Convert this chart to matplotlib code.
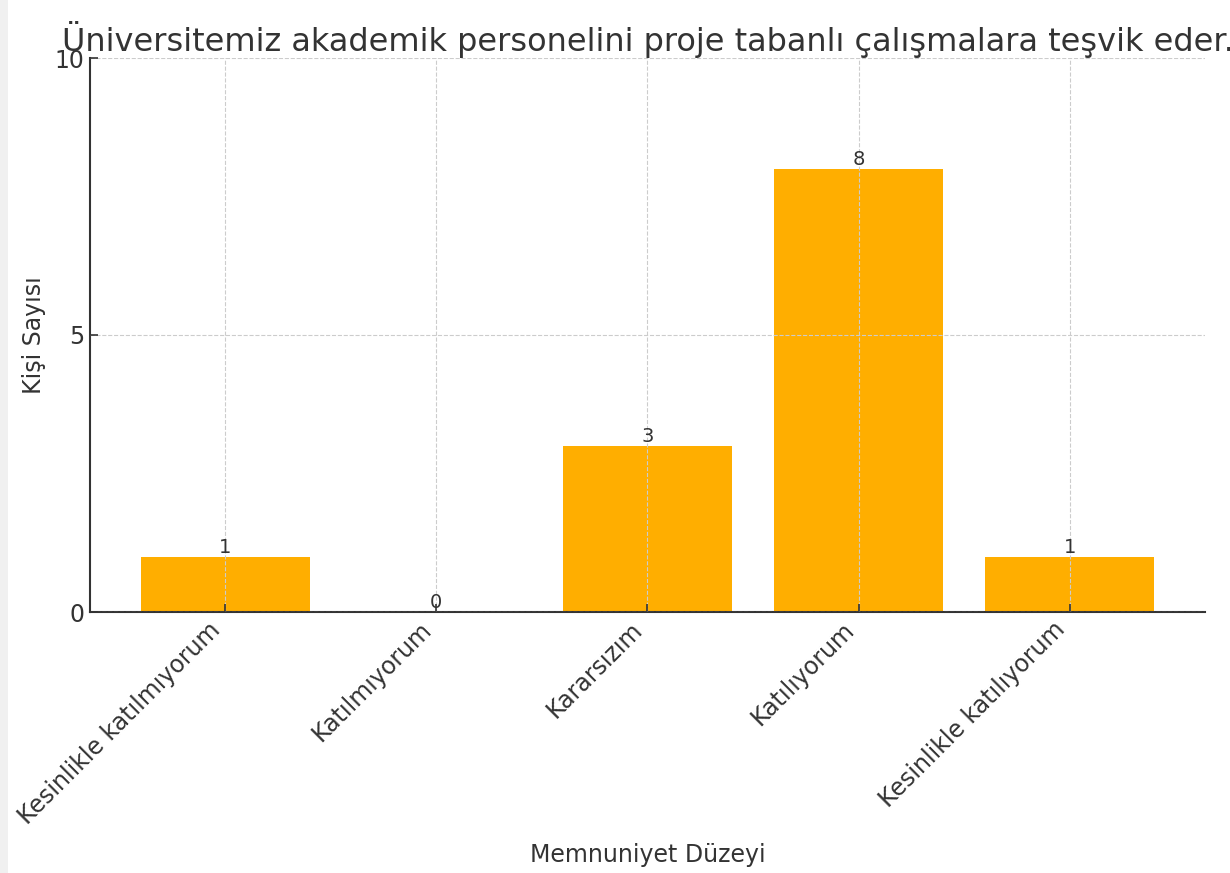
import matplotlib
matplotlib.use("Agg")
import matplotlib.pyplot as plt

categories = ["Kesinlikle katılmıyorum", "Katılmıyorum", "Kararsızım",
              "Katılıyorum", "Kesinlikle katılıyorum"]
counts = [1, 0, 3, 8, 1]
yticks = [0, 5, 10]

title = "Üniversitemiz akademik personelini proje tabanlı çalışmalara teşvik eder."
bar_color = "#FFAE00"
text_color = "#333333"

plt.rcParams["font.family"] = ["DejaVu Sans"]

fig = plt.figure(figsize=(12.30, 8.73), dpi=100)
fig.patch.set_facecolor("white")
# light strip along the left edge
fig.add_artist(plt.Rectangle((0, 0), 8 / 1230, 1, transform=fig.transFigure,
                             facecolor="#f0f0f0", edgecolor="none"))

ax = fig.add_axes([90 / 1230, 1 - 612 / 873, (1205 - 90) / 1230, (612 - 58) / 873])
x = range(len(categories))
ax.bar(x, counts, width=0.8, color=bar_color, zorder=1)
for xi, v in zip(x, counts):
    ax.text(xi, v, str(v), ha="center", va="bottom", fontsize=14, color=text_color)

ax.set_ylim(0, 10)
ax.set_yticks(yticks)
ax.set_xticks(list(x))
ax.set_xticklabels(categories, rotation=45, ha="right", fontsize=17, color=text_color)
ax.tick_params(axis="both", direction="in", length=6, width=1.2, colors=text_color,
               labelsize=17, pad=4)
ax.grid(True, linestyle="--", color="#cccccc", linewidth=0.8, zorder=2)
ax.set_axisbelow(False)
for s in ("top", "right"):
    ax.spines[s].set_visible(False)
for s in ("left", "bottom"):
    ax.spines[s].set_color(text_color)
    ax.spines[s].set_linewidth(1.5)

ax.set_xlabel("Memnuniyet Düzeyi", fontsize=17, color=text_color, labelpad=10)
ax.set_ylabel("Kişi Sayısı", fontsize=17, color=text_color, labelpad=6)
ax.set_title(title, fontsize=23, color=text_color, pad=4)

fig.savefig("out.png", dpi=100)
